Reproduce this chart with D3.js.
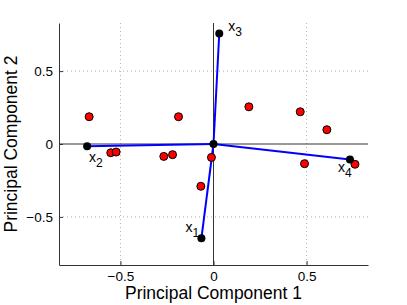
<!DOCTYPE html>
<html><head><meta charset="utf-8">
<script src="https://cdn.jsdelivr.net/npm/d3@7"></script>
<style>body{margin:0;background:#fff}svg{display:block}text{font-family:"Liberation Sans",Arial,sans-serif}</style>
</head><body>
<svg id="c" width="407" height="305"></svg>
<script>
const vecNames = ["1","2","3","4"];
const vecX = [-0.065, -0.679, 0.031, 0.733];
const vecY = [-0.647, -0.016, 0.758, -0.107];
const obsX = [-0.668,-0.552,-0.523,-0.267,-0.220,-0.188,-0.011,-0.068,0.190,0.466,0.609,0.489,0.760];
const obsY = [0.187,-0.060,-0.055,-0.085,-0.073,0.187,-0.092,-0.290,0.255,0.221,0.098,-0.135,-0.139];
const xTicks = [-0.5, 0, 0.5];
const yTicks = [-0.5, 0, 0.5];
const domain = [-0.83, 0.83];

const svg = d3.select("#c");
const L = 59, R = 368, T = 23, B = 265;
const x = d3.scaleLinear().domain(domain).range([L, R]);
const y = d3.scaleLinear().domain(domain).range([B, T]);
const fmt = d => d === 0 ? "0" : (d < 0 ? "\u2212" + Math.abs(d) : String(d));

// grid
const g = svg.append("g");
g.selectAll(".gx").data(xTicks.filter(d=>d!==0)).enter().append("line")
  .attr("x1", d=>x(d)).attr("x2", d=>x(d)).attr("y1", T).attr("y2", B)
  .attr("stroke", "#b0b0b0").attr("stroke-width", 1).attr("stroke-dasharray", "1,3");
g.selectAll(".gy").data(yTicks.filter(d=>d!==0)).enter().append("line")
  .attr("y1", d=>y(d)).attr("y2", d=>y(d)).attr("x1", L).attr("x2", R)
  .attr("stroke", "#b0b0b0").attr("stroke-width", 1).attr("stroke-dasharray", "1,3");

// zero lines
svg.append("line").attr("x1", x(0)).attr("x2", x(0)).attr("y1", T).attr("y2", B).attr("stroke", "#333").attr("stroke-width", 1);
svg.append("line").attr("x1", L).attr("x2", R).attr("y1", y(0)).attr("y2", y(0)).attr("stroke", "#333").attr("stroke-width", 1);

// axes
const xa = svg.append("g").attr("transform", `translate(0,${B})`)
  .call(d3.axisBottom(x).tickValues(xTicks).tickFormat(fmt).tickSizeInner(-4).tickSizeOuter(0).tickPadding(6));
const ya = svg.append("g").attr("transform", `translate(${L},0)`)
  .call(d3.axisLeft(y).tickValues(yTicks).tickFormat(fmt).tickSizeInner(-4).tickSizeOuter(0).tickPadding(6));
[xa, ya].forEach(a => {
  a.select(".domain").attr("stroke", "#333");
  a.selectAll(".tick line").attr("stroke", "#333");
  a.selectAll("text").attr("font-size", 13.5).attr("fill", "#000").attr("font-family", '"Liberation Sans",Arial,sans-serif');
});

// vectors
vecX.forEach((vx, i) => {
  svg.append("line").attr("x1", x(0)).attr("y1", y(0)).attr("x2", x(vx)).attr("y2", y(vecY[i]))
    .attr("stroke", "#0000ff").attr("stroke-width", 2);
});
// observations
svg.selectAll(".obs").data(obsX).enter().append("circle")
  .attr("cx", d=>x(d)).attr("cy", (d,i)=>y(obsY[i])).attr("r", 4)
  .attr("fill", "#ff0000").attr("stroke", "#000").attr("stroke-width", 1);
// vector endpoints
svg.selectAll(".ve").data(vecX).enter().append("circle")
  .attr("cx", d=>x(d)).attr("cy", (d,i)=>y(vecY[i])).attr("r", 4).attr("fill", "#000");
svg.append("circle").attr("cx", x(0)).attr("cy", y(0)).attr("r", 4).attr("fill", "#000");

// labels
const offs = [[-16, -6], [2, 16], [9, -2], [-12, 12]];
vecX.forEach((vx, i) => {
  const t = svg.append("text").attr("x", x(vx) + offs[i][0]).attr("y", y(vecY[i]) + offs[i][1])
    .attr("font-size", 14).attr("fill", "#000");
  t.append("tspan").text("x");
  t.append("tspan").attr("dy", 5).attr("font-size", 12).text(vecNames[i]);
});

// titles
svg.append("text").attr("x", (L+R)/2).attr("y", 299).attr("text-anchor", "middle")
  .attr("font-size", 17.5).text("Principal Component 1");
svg.append("text").attr("transform", `translate(17,${(T+B)/2}) rotate(-90)`).attr("text-anchor", "middle")
  .attr("font-size", 17.5).text("Principal Component 2");
</script>
</body></html>
